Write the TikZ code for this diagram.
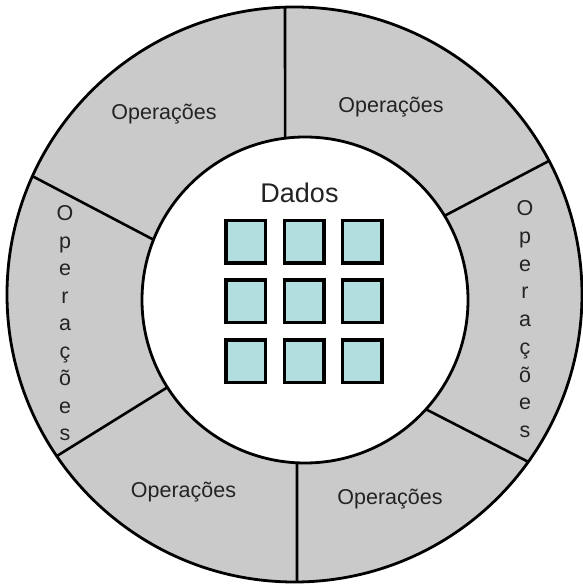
\documentclass[tikz,border=0pt]{standalone}
\usepackage{fontspec}
\setmainfont{Liberation Sans}
\usetikzlibrary{calc}
\definecolor{ringgray}{RGB}{202,202,202}
\definecolor{cellcyan}{RGB}{178,222,224}
\definecolor{inkgray}{RGB}{35,35,35}
\begin{document}
\begin{tikzpicture}[x=1pt,y=1pt,
  ring/.style={line width=2.8pt, draw=black},
  divider/.style={line width=2.6pt, draw=black},
  cell/.style={draw=black, fill=cellcyan, line width=3.5pt, minimum width=39.5pt, minimum height=42.5pt, inner sep=0pt},
  oplabel/.style={font=\fontsize{21.5}{25}\selectfont, anchor=base, inner sep=0pt, text=inkgray},
  letterlabel/.style={font=\fontsize{21.5}{25}\selectfont, anchor=base, inner sep=0pt, text=inkgray}]
\useasboundingbox (0,0) rectangle (583,587);
\fill[white] (0,0) rectangle (583,587);
\coordinate (oc) at (294.5,292.5);
\coordinate (ic) at (305,287);
\fill[ringgray] (oc) circle[radius=287.5];
% divider end points
\coordinate (tI) at ($(ic)+(97:163)$);    \coordinate (tO) at ($(oc)+(91.9:287.5)$);
\coordinate (urI) at ($(ic)+(31.1:163)$); \coordinate (urO) at ($(oc)+(27.7:287.5)$);
\coordinate (lrI) at ($(ic)+(-42.1:163)$);\coordinate (lrO) at ($(oc)+(-35.6:287.5)$);
\coordinate (bI) at ($(ic)+(-92.8:163)$); \coordinate (bO) at ($(oc)+(-89.5:287.5)$);
\coordinate (llI) at ($(ic)+(212.4:163)$);\coordinate (llO) at ($(oc)+(214.2:287.5)$);
\coordinate (ulI) at ($(ic)+(158.3:163)$);\coordinate (ulO) at ($(oc)+(155.7:287.5)$);
\draw[divider] (tI) -- (tO);
\draw[divider] (urI) -- (urO);
\draw[divider] (lrI) -- (lrO);
\draw[divider] (bI) -- (bO);
\draw[divider] (llI) -- (llO);
\draw[divider] (ulI) -- (ulO);
\draw[ring, fill=white] (ic) circle[radius=163];
\draw[ring] (oc) circle[radius=287.5];
% labels
\node[oplabel] (opUL) at (164,467.3) {Operações};
\node[oplabel] (opUR) at (391,474.3) {Operações};
\node[oplabel] (opLL) at (183.5,89.3) {Operações};
\node[oplabel] (opLR) at (390,82.3) {Operações};
\foreach \ch [count=\i from 0] in {O,p,e,r,a,ç,õ,e,s} {
  \node[letterlabel] (vl\i) at (65,366.3-27.5*\i) {\ch};
  \node[letterlabel] (vr\i) at (525,371.3-27.75*\i) {\ch};
}
\node[font=\fontsize{27}{30}\selectfont, anchor=base, inner sep=0pt, text=inkgray] (dados) at (299.5,384.3) {Dados};
% data cells
\foreach \cx [count=\c] in {245.5,304,362} {
  \foreach \cy [count=\r] in {345,285.5,225.5} {
    \node[cell] (cell\r\c) at (\cx,\cy) {};
  }
}
\end{tikzpicture}
\end{document}
